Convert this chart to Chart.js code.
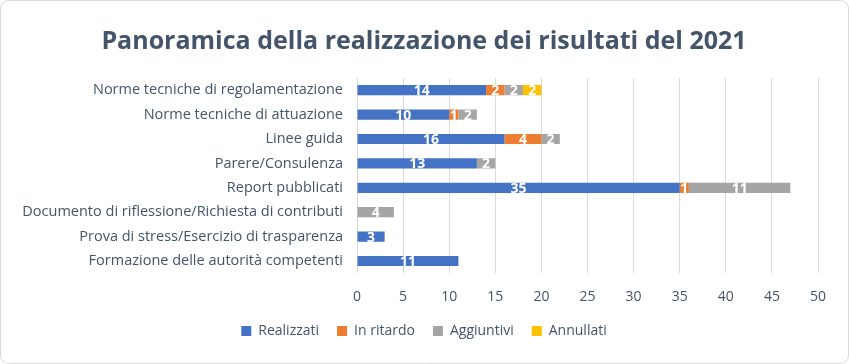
<!DOCTYPE html>
<html>
<head>
<meta charset="utf-8">
<script src="https://cdn.jsdelivr.net/npm/chart.js@4/dist/chart.umd.min.js"></script>
<style>
body{margin:0;background:#fff}
#wrap{width:849px;height:364px}
</style>
</head>
<body>
<div id="wrap"><canvas id="chart" width="849" height="364"></canvas></div>
<script>
/* ====================================
   DATA
==================================== */

const categories=[
"Norme tecniche di regolamentazione",
"Norme tecniche di attuazione",
"Linee guida",
"Parere/Consulenza",
"Report pubblicati",
"Documento di riflessione/Richiesta di contributi",
"Prova di stress/Esercizio di trasparenza",
"Formazione delle autorità competenti"
]

const realizzati=[14,10,16,13,35,0,3,11]
const inRitardo=[2,1,4,0,1,0,0,0]
const aggiuntivi=[2,2,2,2,11,4,0,0]
const annullati=[2,0,0,0,0,0,0,0]

const xTicks=[0,5,10,15,20,25,30,35,40,45,50]

const FONT="'Open Sans', 'Noto Sans', sans-serif"
const TEXT="#44546A"


/* ====================================
   PLUGINS
==================================== */

// rounded frame round the whole chart
const frame={
id:"frame",
beforeDraw(chart){
const ctx=chart.ctx
ctx.save()
ctx.fillStyle="#fff"
ctx.fillRect(0,0,chart.width,chart.height)
ctx.strokeStyle="#d9d9d9"
ctx.lineWidth=1
ctx.beginPath()
ctx.roundRect(0.5,0.5,chart.width-1,chart.height-1,8)
ctx.stroke()
ctx.restore()
}
}

// centre title and legend on the whole canvas, not on the padded box
const centreBlocks={
id:"centreBlocks",
afterLayout(chart){
[chart.titleBlock,chart.legend].forEach(b=>{
if(!b) return
b.left+=10
b.right+=10
})
}
}

// white value labels in the middle of each bar piece
const barLabels={
id:"barLabels",
afterDatasetsDraw(chart){
const ctx=chart.ctx
ctx.save()
ctx.font="bold 14px "+FONT
ctx.fillStyle="#fff"
ctx.textAlign="center"
ctx.textBaseline="middle"
chart.data.datasets.forEach((ds,i)=>{
const meta=chart.getDatasetMeta(i)
meta.data.forEach((bar,j)=>{
const v=ds.data[j]
if(!v) return
ctx.fillText(v,(bar.x+bar.base)/2,bar.y+1)
})
})
ctx.restore()
}
}


/* ====================================
   CHART
==================================== */

new Chart(document.getElementById("chart"),{

type:"bar",

data:{
labels:categories,
datasets:[
{label:"Realizzati",data:realizzati,backgroundColor:"#4472C4"},
{label:"In ritardo",data:inRitardo,backgroundColor:"#ED7D31"},
{label:"Aggiuntivi",data:aggiuntivi,backgroundColor:"#A5A5A5"},
{label:"Annullati",data:annullati,backgroundColor:"#FFC000"}
]
},

options:{
indexAxis:"y",
responsive:false,
animation:false,
categoryPercentage:0.42,
barPercentage:1,
layout:{padding:{left:10,right:31,top:0,bottom:16}},
plugins:{
title:{
display:true,
text:"Panoramica della realizzazione dei risultati del 2021",
color:TEXT,
font:{family:FONT,size:25,weight:"bold"},
padding:{top:27,bottom:21}
},
legend:{
position:"bottom",
labels:{
boxWidth:10,
boxHeight:10,
padding:18,
color:TEXT,
font:{family:FONT,size:14}
}
},
tooltip:{enabled:false}
},
scales:{
x:{
stacked:true,
min:0,
max:50,
afterBuildTicks(scale){scale.ticks=xTicks.map(v=>({value:v}))},
afterFit(scale){scale.height-=14},
border:{display:false},
grid:{color:"#d9d9d9",drawTicks:false},
ticks:{
padding:15,
color:TEXT,
font:{family:FONT,size:14}
}
},
y:{
stacked:true,
afterFit(scale){scale.width=347},
border:{display:false},
grid:{display:false,drawTicks:false},
ticks:{
padding:14,
color:TEXT,
font:{family:FONT,size:14.5}
}
}
}
},

plugins:[frame,centreBlocks,barLabels]

})
</script>
</body>
</html>
